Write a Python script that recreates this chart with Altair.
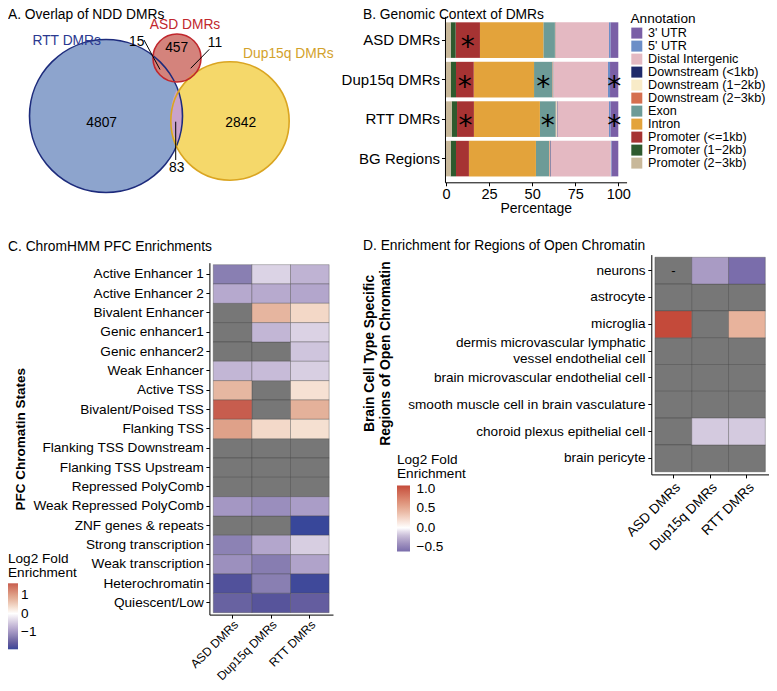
import altair as alt
import pandas as pd

FONT = "Liberation Sans"
W, H = 761, 675
FS = 13.6

# ======================= DATA =======================
# --- A. Overlap of NDD DMRs (Venn) ---
venn_sets = ["RTT DMRs", "Dup15q DMRs", "ASD DMRs"]          # drawing order
region_names = ["RTT only", "ASD only", "Dup15q only", "RTT & ASD", "ASD & Dup15q", "RTT & Dup15q"]
region_counts = [4807, 457, 2842, 15, 11, 83]

# --- B. Genomic Context of DMRs ---
contexts = ["ASD DMRs", "Dup15q DMRs", "RTT DMRs", "BG Regions"]
annotations = ["3' UTR", "5' UTR", "Distal Intergenic", "Downstream (<1kb)",
               "Downstream (1\u22122kb)", "Downstream (2\u22123kb)", "Exon", "Intron",
               "Promoter (<=1kb)", "Promoter (1\u22122kb)", "Promoter (2\u22123kb)"]
pct_asd    = [4.6, 0.8, 30.8, 0.2, 0.2, 0.2, 6.7, 36.8, 14.1, 2.9, 2.7]
pct_dup15q = [4.8, 1.2, 31.5, 0.2, 0.3, 0.3, 10.6, 35.0, 10.3, 2.9, 2.9]
pct_rtt    = [4.6, 0.8, 30.0, 0.3, 0.4, 0.3, 9.1, 38.3, 9.8, 3.1, 3.3]
pct_bg     = [4.0, 0.4, 34.9, 0.3, 0.3, 0.3, 7.6, 38.9, 7.5, 3.1, 2.7]
sig_asd    = ["Promoter (<=1kb)"]
sig_dup15q = ["Promoter (<=1kb)", "Exon", "3' UTR"]
sig_rtt    = ["Promoter (<=1kb)", "Exon", "3' UTR"]
sig_bg     = []

# --- C. ChromHMM PFC Enrichments (log2 fold enrichment, None = not significant) ---
dmr_groups = ["ASD DMRs", "Dup15q DMRs", "RTT DMRs"]
c_states = ["Active Enhancer 1", "Active Enhancer 2", "Bivalent Enhancer", "Genic enhancer1",
            "Genic enhancer2", "Weak Enhancer", "Active TSS", "Bivalent/Poised TSS",
            "Flanking TSS", "Flanking TSS Downstream", "Flanking TSS Upstream",
            "Repressed PolyComb", "Weak Repressed PolyComb", "ZNF genes & repeats",
            "Strong transcription", "Weak transcription", "Heterochromatin", "Quiescent/Low"]
c_asd    = [-1.26, -0.82, None, None, None, -0.69, 0.74, 1.64, 0.99, None, None, None,
            -1.00, None, -1.23, -1.08, -1.77, -1.55]
c_dup15q = [-0.41, -0.81, 0.76, -0.69, None, -0.64, None, None, 0.41, None, None, None,
            -1.10, None, -0.85, -1.28, -1.26, -1.72]
c_rtt    = [-0.72, -0.85, 0.42, -0.42, -0.55, -0.45, 0.33, 0.81, 0.34, None, None, None,
            -0.94, -1.94, -0.46, -0.88, -1.90, -1.60]

# --- D. Enrichment for Regions of Open Chromatin ---
DERMIS = "dermis microvascular lymphatic vessel endothelial cell"
d_cells = ["neurons", "astrocyte", "microglia", DERMIS, "brain microvascular endothelial cell",
           "smooth muscle cell in brain vasculature", "choroid plexus epithelial cell", "brain pericyte"]
d_asd    = [None, None, 1.08, None, None, None, None, None]
d_dup15q = [-0.35, None, None, None, None, None, -0.15, None]
d_rtt    = [-0.60, None, 0.45, None, None, None, -0.15, None]
d_notes_cell = ["neurons"]
d_notes_group = ["ASD DMRs"]
d_notes_text = ["-"]

# ======================= LAYOUT / STYLE =======================
# Venn layout (layout units)
venn_cx = {"RTT DMRs": 29.70, "Dup15q DMRs": 67.27, "ASD DMRs": 51.21}
venn_cy = {"RTT DMRs": 32.73, "Dup15q DMRs": 34.24, "ASD DMRs": 15.15}
venn_lab_x = {"RTT DMRs": 17.79, "Dup15q DMRs": 84.94, "ASD DMRs": 53.64}
venn_lab_y = {"RTT DMRs": 9.91, "Dup15q DMRs": 14.03, "ASD DMRs": 5.15}
region_lab_x = [28.39, 51.12, 70.52, 39.0, 62.73, 51.12]
region_lab_y = [34.94, 12.21, 34.76, 10.21, 10.70, 48.58]
leader_x1 = [41.21, 61.0, 50.82]
leader_y1 = [9.70, 12.52, 34.45]
leader_x2 = [46.06, 55.36, 50.82]
leader_y2 = [18.64, 18.27, 46.06]
lens_x, lens_y = 51.33, 32.79
LENS_PATH = "M0,-1C0.25,-0.5,0.25,0.5,0,1C-0.324,0.5,-0.324,-0.5,0,-1Z"

venn_fill = {"RTT DMRs": "#8da4cd", "Dup15q DMRs": "#f5d86a", "ASD DMRs": "#d4837c"}
venn_stroke = {"RTT DMRs": "#1d2b7c", "Dup15q DMRs": "#daa521", "ASD DMRs": "#c0272d"}
venn_text = {"RTT DMRs": "#2b3990", "Dup15q DMRs": "#d3a22c", "ASD DMRs": "#c1272d"}

b_colors = ["#7a5fa6", "#6c8ec7", "#e4b9c2", "#1f2a6b", "#f8ebc8", "#d56f4f",
            "#6d9b97", "#e3a33b", "#a63333", "#2e5a2e", "#c8b89a"]

c_stops = [-1.94, -1.7, -1.5, -1.25, -1.0, -0.8, -0.45, 0, 0.35, 0.75, 1.0, 1.64]
c_cols = ["#38479a", "#5a559b", "#6d66a3", "#8a80b3", "#a497c3", "#b8abcf", "#d8cfe2",
          "#ffffff", "#f5dfd0", "#e6b6a0", "#dfa088", "#c75d4e"]
d_stops = [-0.6, -0.35, -0.15, 0, 0.45, 1.08]
d_cols = ["#7a6dab", "#a99bc4", "#d4cadf", "#ffffff", "#e8b39c", "#c44a3a"]
NA_GREY = "#777777"

# ======================= PANEL A =======================
totals = {
    "RTT DMRs": region_counts[0] + region_counts[3] + region_counts[5],
    "ASD DMRs": region_counts[1] + region_counts[3] + region_counts[4],
    "Dup15q DMRs": region_counts[2] + region_counts[4] + region_counts[5],
}
venn_df = pd.DataFrame({
    "set": venn_sets,
    "total": [totals[s] for s in venn_sets],
    "cx": [venn_cx[s] for s in venn_sets],
    "cy": [venn_cy[s] for s in venn_sets],
    "lx": [venn_lab_x[s] for s in venn_sets],
    "ly": [venn_lab_y[s] for s in venn_sets],
})
regions_df = pd.DataFrame({"region": region_names, "n": [str(v) for v in region_counts],
                           "x": region_lab_x, "y": region_lab_y})
leaders_df = pd.DataFrame({"x1": leader_x1, "y1": leader_y1, "x2": leader_x2, "y2": leader_y2})
lens_df = pd.DataFrame({"x": [lens_x], "y": [lens_y]})

vxs = alt.Scale(domain=[0, 100], range=[0, 330], nice=False, zero=False)
vys = alt.Scale(domain=[0, 60], range=[0, 198], nice=False, zero=False)
vsize = alt.Size("total:Q", scale=alt.Scale(domain=[0, max(totals.values())], range=[0, 153 ** 2]),
                 legend=None)

a_fill = alt.Chart(venn_df).mark_point(shape="circle", filled=True, opacity=1, strokeWidth=0).encode(
    x=alt.X("cx:Q", scale=vxs, axis=None), y=alt.Y("cy:Q", scale=vys, axis=None), size=vsize,
    color=alt.Color("set:N", scale=alt.Scale(domain=venn_sets, range=[venn_fill[s] for s in venn_sets]),
                    legend=None))
a_lens = alt.Chart(lens_df).mark_point(shape=LENS_PATH, filled=True, opacity=1, size=2959,
                                       color="#c9a3cb", strokeWidth=0).encode(
    x=alt.X("x:Q", scale=vxs, axis=None), y=alt.Y("y:Q", scale=vys, axis=None))
a_stroke = alt.Chart(venn_df).mark_point(shape="circle", filled=False, opacity=1, strokeWidth=1.6).encode(
    x=alt.X("cx:Q", scale=vxs, axis=None), y=alt.Y("cy:Q", scale=vys, axis=None), size=vsize,
    stroke=alt.Stroke("set:N", scale=alt.Scale(domain=venn_sets, range=[venn_stroke[s] for s in venn_sets]),
                      legend=None))
a_lines = alt.Chart(leaders_df).mark_rule(color="black", strokeWidth=1).encode(
    x=alt.X("x1:Q", scale=vxs, axis=None), y=alt.Y("y1:Q", scale=vys, axis=None), x2="x2:Q", y2="y2:Q")
a_nums = alt.Chart(regions_df).mark_text(fontSize=13.8, color="black", baseline="middle").encode(
    x=alt.X("x:Q", scale=vxs, axis=None), y=alt.Y("y:Q", scale=vys, axis=None), text="n:N")
a_labels = alt.Chart(venn_df).mark_text(fontSize=13.8, baseline="middle").encode(
    x=alt.X("lx:Q", scale=vxs, axis=None), y=alt.Y("ly:Q", scale=vys, axis=None), text="set:N",
    fill=alt.Fill("set:N", scale=alt.Scale(domain=venn_sets, range=[venn_text[s] for s in venn_sets]),
                  legend=None))
panelA = alt.layer(a_fill, a_lens, a_stroke, a_lines, a_nums, a_labels)

# ======================= PANEL B =======================
b_rows = []
for ctx, vals, sig in zip(contexts, [pct_asd, pct_dup15q, pct_rtt, pct_bg],
                          [sig_asd, sig_dup15q, sig_rtt, sig_bg]):
    for i, (a, v) in enumerate(zip(annotations, vals)):
        b_rows.append({"context": ctx, "annotation": a, "pct": v, "idx": i, "sig": a in sig})
b_df = pd.DataFrame(b_rows)

bxs = alt.Scale(domain=[-0.6, 104.8], range=[436.97, 618.57], nice=False, zero=False)
bys = alt.Scale(domain=contexts, range=[8.4, 174.3], paddingInner=0.1, paddingOuter=0.15)
bx_axis = alt.Axis(orient="bottom", offset=174.3 - H, values=[0, 25, 50, 75, 100], title="Percentage",
                   titleFontSize=14, titleFontWeight="normal", titleBaseline="alphabetic", titleY=30,
                   labelFontSize=14.5, labelBaseline="alphabetic", labelPadding=12.3, labelFlush=False,
                   tickSize=3.5, grid=False)
by_axis = alt.Axis(orient="left", offset=-436.97, title=None, labelFontSize=15, labelPadding=2,
                   tickSize=3.5, grid=False, labelLimit=300)

b_base = alt.Chart(b_df).transform_stack(
    stack="pct", groupby=["context"], as_=["x0", "x1"],
    sort=[alt.SortField(field="idx", order="descending")])
b_bars = b_base.mark_bar(strokeWidth=0).encode(
    x=alt.X("x0:Q", scale=bxs, axis=bx_axis), x2="x1:Q",
    y=alt.Y("context:N", scale=bys, axis=by_axis),
    color=alt.Color("annotation:N", scale=alt.Scale(domain=annotations, range=b_colors),
                    legend=alt.Legend(orient="none", legendX=622.5, legendY=4.2, title="Annotation",
                                      titleFontSize=13.6, titleFontWeight="normal", titlePadding=1,
                                      titleBaseline="top", labelFontSize=12.6, symbolType="square",
                                      symbolSize=121, symbolStrokeWidth=0, rowPadding=0,
                                      labelOffset=5, padding=0, labelLimit=300)))
b_stars = b_base.transform_filter("datum.sig").transform_calculate(
    mid="(datum.x0 + datum.x1) / 2").mark_text(
    text="*", fontSize=28, font="DejaVu Sans", baseline="alphabetic", dy=16, color="black").encode(
    x=alt.X("mid:Q", scale=bxs, axis=bx_axis), y=alt.Y("context:N", scale=bys, axis=by_axis))
panelB = alt.layer(b_bars, b_stars)

# ======================= PANEL C =======================
c_rows = []
for g, vals in zip(dmr_groups, [c_asd, c_dup15q, c_rtt]):
    for s, v in zip(c_states, vals):
        c_rows.append({"group": g, "state": s, "value": v})
c_df = pd.DataFrame(c_rows)

cx_enc = alt.X("group:N", scale=alt.Scale(domain=dmr_groups, range=[201.4, 325.0], paddingInner=0,
                                          paddingOuter=0.1),
               axis=alt.Axis(orient="bottom", offset=606.6 - H, title=None, labelAngle=315,
                             labelAlign="right", labelBaseline="top", labelFontSize=12.0,
                             labelPadding=0.5, tickSize=3.5, labelOverlap=False, grid=False))
cy_enc = alt.Y("state:N", scale=alt.Scale(domain=c_states, range=[254.7, 606.6], paddingInner=0,
                                          paddingOuter=0.1),
               axis=alt.Axis(orient="left", offset=-201.4, title="PFC Chromatin States",
                             titleFontSize=13.5, titleFontWeight="bold", titleAngle=270,
                             titleAlign="center", titleBaseline="middle", titleX=-189.4, titleY=430.65,
                             labelFontSize=FS, labelPadding=2.5, tickSize=3.5, labelLimit=400,
                             labelOverlap=False, grid=False))
c_na = alt.Chart(c_df).transform_filter("!isValid(datum.value)").mark_rect(
    fill=NA_GREY, stroke="#4a4a4a", strokeWidth=0.6, strokeOpacity=0.8).encode(x=cx_enc, y=cy_enc)
c_tiles = alt.Chart(c_df).transform_filter("isValid(datum.value)").mark_rect(
    stroke="#4a4a4a", strokeWidth=0.6, strokeOpacity=0.6).encode(
    x=cx_enc, y=cy_enc,
    color=alt.Color("value:Q", scale=alt.Scale(domain=c_stops, range=c_cols, interpolate="lab"),
                    legend=alt.Legend(orient="none", legendX=0, legendY=543.7,
                                      title=["Log2 Fold", "Enrichment"], titleFontSize=13.6,
                                      titleFontWeight="normal", titleLineHeight=14, titlePadding=4,
                                      titleBaseline="top", values=[-1, 0, 1], format="d",
                                      gradientLength=66, gradientThickness=10, gradientStrokeWidth=0,
                                      labelFontSize=FS, labelOffset=3, direction="vertical",
                                      padding=0)))
panelC = alt.layer(c_na, c_tiles)

# ======================= PANEL D =======================
d_rows = []
for g, vals in zip(dmr_groups, [d_asd, d_dup15q, d_rtt]):
    for s, v in zip(d_cells, vals):
        d_rows.append({"group": g, "cell": s, "value": v})
d_df = pd.DataFrame(d_rows)
d_notes = pd.DataFrame({"group": d_notes_group, "cell": d_notes_cell, "note": d_notes_text})

label_expr = (f"datum.label == '{DERMIS}' ? ['dermis microvascular lymphatic', "
              f"'vessel endothelial cell'] : datum.label")
dx_enc = alt.X("group:N", scale=alt.Scale(domain=dmr_groups, range=[643.3, 761.0], paddingInner=0,
                                          paddingOuter=0.1),
               axis=alt.Axis(orient="bottom", offset=466.4 - H, title=None, labelAngle=315,
                             labelAlign="right", labelBaseline="top", labelFontSize=FS,
                             labelPadding=2, tickSize=3.5, labelOverlap=False, grid=False))
dy_enc = alt.Y("cell:N", scale=alt.Scale(domain=d_cells, range=[246.6, 466.4], paddingInner=0,
                                         paddingOuter=0.1),
               axis=alt.Axis(orient="left", offset=-643.3,
                             title=["Brain Cell Type Specific", "Regions of Open Chromatin"],
                             titleFontSize=13.9, titleFontWeight="bold", titleAngle=270,
                             titleAlign="center", titleBaseline="middle", titleLineHeight=16.5,
                             titleX=-282.3, titleY=345, labelExpr=label_expr, labelLineHeight=15.5,
                             labelOffset={"condition": {"test": f"datum.label == '{DERMIS}'",
                                                        "value": -7.8}, "value": 0},
                             labelFontSize=FS, labelPadding=2.8, tickSize=3.5, labelLimit=400,
                             labelOverlap=False, grid=False))
d_na = alt.Chart(d_df).transform_filter("!isValid(datum.value)").mark_rect(
    fill=NA_GREY, stroke="#4a4a4a", strokeWidth=0.6, strokeOpacity=0.8).encode(x=dx_enc, y=dy_enc)
d_tiles = alt.Chart(d_df).transform_filter("isValid(datum.value)").mark_rect(
    stroke="#4a4a4a", strokeWidth=0.6, strokeOpacity=0.6).encode(
    x=dx_enc, y=dy_enc,
    color=alt.Color("value:Q", scale=alt.Scale(domain=d_stops, range=d_cols, interpolate="lab"),
                    legend=alt.Legend(orient="none", legendX=389, legendY=444.5,
                                      title=["Log2 Fold", "Enrichment"], titleFontSize=13.6,
                                      titleFontWeight="normal", titleLineHeight=14.3, titlePadding=5,
                                      titleBaseline="top", values=[-0.5, 0, 0.5, 1.0], format=".1f",
                                      gradientLength=66, gradientThickness=13, gradientStrokeWidth=0,
                                      labelFontSize=FS, labelOffset=6.5, direction="vertical",
                                      padding=0)))
d_text = alt.Chart(d_notes).mark_text(fontSize=13, color="black", baseline="middle").encode(
    x=dx_enc, y=dy_enc, text="note:N")
panelD = alt.layer(d_na, d_tiles, d_text)

# ======================= PANEL TITLES =======================
def panel_title(txt, px, py):
    return alt.Chart(pd.DataFrame({"t": [txt]})).mark_text(
        align="left", baseline="alphabetic", fontSize=13.8, color="black").encode(
        text="t:N", x=alt.value(px), y=alt.value(py))

tA = panel_title("A. Overlap of NDD DMRs", 0, 10.5)
tB = panel_title("B. Genomic Context of DMRs", 355, 10.5)
tC = panel_title("C. ChromHMM PFC Enrichments", 0, 243)
tD = panel_title("D. Enrichment for Regions of Open Chromatin", 355, 242)

chart = alt.layer(panelA, panelB, panelC, panelD, tA, tB, tC, tD).resolve_scale(
    x="independent", y="independent", color="independent", fill="independent",
    stroke="independent", size="independent").resolve_axis(
    x="independent", y="independent").resolve_legend(color="independent").properties(
    width=W, height=H, autosize=alt.AutoSizeParams(type="none"), padding=0, background="white"
).configure_view(stroke=None).configure_axis(
    grid=False, domainColor="black", tickColor="black", labelColor="black", titleColor="black",
    labelFont=FONT, titleFont=FONT, domainWidth=1, tickWidth=1
).configure_legend(labelFont=FONT, titleFont=FONT, labelColor="black", titleColor="black"
).configure_text(font=FONT)

chart.save("out.html", embed_options={"renderer": "svg", "actions": False})
